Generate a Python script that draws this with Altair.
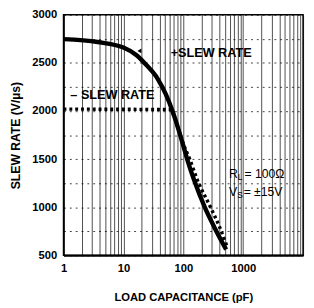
import altair as alt
import pandas as pd

# +SLEW RATE (solid)
plus_cap = [1, 3.7, 10, 16.6, 24, 37.8, 51, 66, 83, 100, 116, 150, 228, 331, 519]
plus_rate = [2747, 2717, 2660, 2580, 2480, 2330, 2175, 2000, 1810, 1640, 1500, 1290, 1000, 790, 561]

# -SLEW RATE (dotted)
minus_cap = [1, 60, 70, 80, 100, 128, 170, 285, 400, 530]
minus_rate = [2020, 2015, 1950, 1840, 1660, 1500, 1290, 1000, 800, 600]

x_label_values = [1, 10, 100, 1000]
x_grid_values = [1, 2, 3, 4, 5, 6, 7, 8, 9,
                 10, 20, 30, 40, 50, 60, 70, 80, 90,
                 100, 200, 300, 400, 500, 600, 700, 800, 900,
                 1000, 2000, 3000, 4000, 5000, 6000, 7000, 8000, 9000, 10000]
y_grid_values = [500, 750, 1000, 1250, 1500, 1750, 2000, 2250, 2500, 2750, 3000]
y_label_values = [500, 1000, 1500, 2000, 2500, 3000]

# annotations
label_text = ["+SLEW RATE", "\u2013 SLEW RATE"]
label_cap = [61.5, 1.3]
label_rate = [2605, 2170]
arrow_cap = [18.5]
arrow_rate = [2625]
cond_cap = [580, 580]
cond_rate = [1340, 1158]

FONT = "Liberation Sans"

plus_df = pd.DataFrame({"cap": plus_cap, "rate": plus_rate})
minus_df = pd.DataFrame({"cap": minus_cap, "rate": minus_rate})
lab_df = pd.DataFrame({"cap": label_cap, "rate": label_rate, "t": label_text})
arrow_df = pd.DataFrame({"cap": arrow_cap, "rate": arrow_rate})
cond_df = pd.DataFrame({"cap": cond_cap, "rate": cond_rate})

xl = ",".join(str(v) for v in x_label_values)
yl = ",".join(str(v) for v in y_label_values)

x_enc = alt.X(
    "cap:Q",
    scale=alt.Scale(type="log", domain=[1, 10000]),
    axis=alt.Axis(
        values=x_grid_values,
        format="d",
        labelExpr=f"indexof([{xl}], datum.value) >= 0 ? datum.label : ''",
        ticks=False,
        grid=True,
        gridColor="black",
        gridOpacity=0.7,
        gridWidth=1,
        domain=True,
        domainColor="black",
        domainWidth=2,
        labelFlush=False,
        labelPadding=8,
        labelFont=FONT,
        labelFontSize=11.5,
        labelFontWeight="bold",
        labelColor="black",
        title="LOAD CAPACITANCE (pF)",
        titleFont=FONT,
        titleFontSize=11.5,
        titleFontWeight="bold",
        titleColor="black",
        titlePadding=18,
    ),
)
y_enc = alt.Y(
    "rate:Q",
    scale=alt.Scale(domain=[500, 3000], nice=False, zero=False),
    axis=alt.Axis(
        values=y_grid_values,
        format="d",
        labelExpr=f"indexof([{yl}], datum.value) >= 0 ? datum.label : ''",
        ticks=False,
        grid=True,
        gridColor="black",
        gridOpacity=0.75,
        gridWidth=1,
        gridDash=[2, 4],
        domain=True,
        domainColor="black",
        domainWidth=1.5,
        labelPadding=7,
        labelFont=FONT,
        labelFontSize=11.5,
        labelFontWeight="bold",
        labelColor="black",
        title="SLEW RATE (V/\u00b5s)",
        titleFont=FONT,
        titleFontSize=12.5,
        titleFontWeight="bold",
        titleColor="black",
        titlePadding=10,
    ),
)

solid = alt.Chart(plus_df).mark_line(
    color="black", strokeWidth=4.5, interpolate="monotone"
).encode(x=x_enc, y=y_enc)

dotted = alt.Chart(minus_df).mark_line(
    color="black", strokeWidth=3.5, strokeDash=[3, 3], strokeCap="butt", interpolate="monotone"
).encode(x=x_enc, y=y_enc)

labels = alt.Chart(lab_df).mark_text(
    align="left", baseline="middle", font=FONT, fontSize=13, fontWeight="bold", color="black"
).encode(x=x_enc, y=y_enc, text="t:N")

arrow = alt.Chart(arrow_df).mark_point(
    shape="triangle-left", filled=True, color="black", size=22, opacity=1
).encode(x=x_enc, y=y_enc)

cond_base = alt.Chart(cond_df.iloc[[0]])
cond_base2 = alt.Chart(cond_df.iloc[[1]])
r_main = cond_base.mark_text(align="left", baseline="middle", font=FONT, fontSize=12.5, color="black",
                             text="R").encode(x=x_enc, y=y_enc)
r_sub = cond_base.mark_text(align="left", baseline="middle", font=FONT, fontSize=8.5, color="black",
                            text="L", dx=9, dy=3).encode(x=x_enc, y=y_enc)
r_rest = cond_base.mark_text(align="left", baseline="middle", font=FONT, fontSize=12.5, color="black",
                             text="= 100\u03a9", dx=16).encode(x=x_enc, y=y_enc)
v_main = cond_base2.mark_text(align="left", baseline="middle", font=FONT, fontSize=12.5, color="black",
                              text="V").encode(x=x_enc, y=y_enc)
v_sub = cond_base2.mark_text(align="left", baseline="middle", font=FONT, fontSize=8.5, color="black",
                             text="S", dx=8.5, dy=3).encode(x=x_enc, y=y_enc)
v_rest = cond_base2.mark_text(align="left", baseline="middle", font=FONT, fontSize=12.5, color="black",
                              text="= \u00b115V", dx=15).encode(x=x_enc, y=y_enc)

chart = alt.layer(
    solid, dotted, labels, arrow, r_main, r_sub, r_rest, v_main, v_sub, v_rest
).properties(
    width=246,
    height=247,
    autosize=alt.AutoSizeParams(type="none"),
    padding={"left": 57, "top": 3, "right": 3, "bottom": 47},
    background="white",
).configure_view(stroke="black", strokeWidth=1.5)

chart.save("out.html", embed_options={"renderer": "svg", "actions": False})
